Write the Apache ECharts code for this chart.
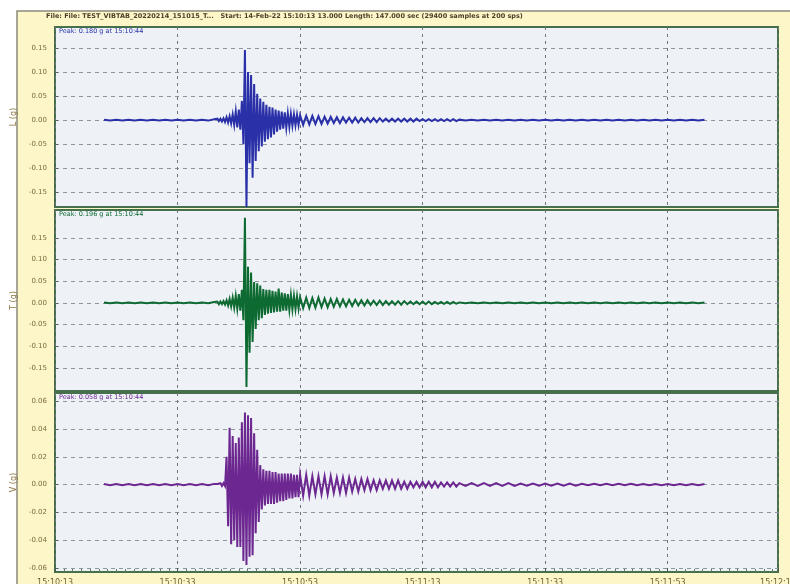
<!DOCTYPE html>
<html>
<head>
<meta charset="utf-8">
<title>Vibration record</title>
<script src="https://cdn.jsdelivr.net/npm/echarts@6/dist/echarts.min.js"></script>
<style>
  html, body { margin: 0; padding: 0; background: #ffffff; }
  #chart { width: 790px; height: 584px; }
</style>
</head>
<body>
<div id="chart"></div>
<script>
// Record sampling layout: [start time (s), step (s), sample count] per stretch.
const timeSegments = [[8, 1, 18], [26, 0.25, 56], [40, 0.5, 52], [66, 1, 41]];

// Header and channel captions
const headerText = 'File: File: TEST_VIBTAB_20220214_151015_T...   Start: 14-Feb-22 15:10:13 13.000 Length: 147.000 sec (29400 samples at 200 sps)';
const channelNames = ['L (g)', 'T (g)', 'V (g)'];
const peakCaptions = ['Peak: 0.180 g at 15:10:44', 'Peak: 0.196 g at 15:10:44', 'Peak: 0.058 g at 15:10:44'];

// Time axis: seconds from 15:10:13
const recordStart = [15, 10, 13];
const timeMin = 0, timeMax = 118, timeStep = 20;

// Amplitude tick labels per channel
const ticksL = [-0.15, -0.10, -0.05, 0, 0.05, 0.10, 0.15];
const ticksT = [-0.15, -0.10, -0.05, 0, 0.05, 0.10, 0.15];
const ticksV = [-0.06, -0.04, -0.02, 0, 0.02, 0.04, 0.06];
const rangeL = [-0.181, 0.194];
const rangeT = [-0.203, 0.214];
const rangeV = [-0.063, 0.066];

// Channel L (g): alternating swing extremes
const traceL = [
  // pre-event
  0.001,-0.001,0.001,-0.001,0.001,-0.001,0.001,-0.001,0.001,-0.001,0.001,-0.001,0.001,-0.001,0.001,-0.001,0.001,-0.001,
  // burst 26 s - 39.75 s
  0.002,-0.002,0.003,-0.002,0.003,-0.003,0.004,-0.004,
  0.006,-0.005,0.008,-0.007,0.012,-0.010,0.018,-0.015,
  0.022,-0.020,0.040,-0.050,0.146,-0.181,0.100,-0.090,
  0.094,-0.120,0.075,-0.085,0.055,-0.065,0.045,-0.055,
  0.038,-0.045,0.032,-0.040,0.028,-0.036,0.026,-0.030,
  0.022,-0.024,0.020,-0.020,0.018,-0.018,0.016,-0.016,
  0.014,-0.014,0.013,-0.012,0.012,-0.011,0.011,-0.010,
  // coda 40 s - 65.5 s
  0.010,-0.010,0.009,-0.009,0.009,-0.008,0.008,-0.008,
  0.007,-0.007,0.007,-0.006,0.006,-0.006,0.006,-0.005,
  0.005,-0.005,0.005,-0.005,0.004,-0.004,0.004,-0.004,
  0.004,-0.004,0.004,-0.003,0.003,-0.003,0.003,-0.003,
  0.003,-0.003,0.003,-0.003,0.003,-0.003,0.003,-0.002,
  0.002,-0.002,0.002,-0.002,0.002,-0.002,0.002,-0.002,
  0.002,-0.002,0.002,-0.002,
  // tail
  0.001,-0.001,0.001,-0.001,0.001,-0.001,0.001,-0.001,0.001,-0.001,
  0.001,-0.001,0.001,-0.001,0.001,-0.001,0.001,-0.001,0.001,-0.001,
  0.001,-0.001,0.001,-0.001,0.001,-0.001,0.001,-0.001,0.001,-0.001,
  0.001,-0.001,0.001,-0.001,0.001,-0.001,0.001,-0.001,0.001,-0.001,
  0.001
];

// Channel T (g)
const traceT = [
  0.001,-0.001,0.001,-0.001,0.001,-0.001,0.001,-0.001,0.001,-0.001,0.001,-0.001,0.001,-0.001,0.001,-0.001,0.001,-0.001,
  0.002,-0.002,0.003,-0.003,0.003,-0.003,0.004,-0.004,
  0.006,-0.006,0.009,-0.008,0.012,-0.011,0.016,-0.014,
  0.020,-0.018,0.030,-0.040,0.196,-0.194,0.083,-0.115,
  0.070,-0.090,0.048,-0.060,0.045,-0.040,0.040,-0.035,
  0.032,-0.028,0.030,-0.025,0.030,-0.023,0.028,-0.022,
  0.026,-0.020,0.033,-0.020,0.024,-0.018,0.022,-0.018,
  0.020,-0.016,0.018,-0.015,0.016,-0.014,0.015,-0.013,
  0.013,-0.012,0.012,-0.012,0.011,-0.011,0.012,-0.010,
  0.010,-0.010,0.009,-0.009,0.009,-0.008,0.008,-0.008,
  0.007,-0.007,0.007,-0.006,0.006,-0.006,0.006,-0.005,
  0.005,-0.005,0.005,-0.005,0.004,-0.004,0.004,-0.004,
  0.004,-0.004,0.004,-0.003,0.003,-0.003,0.003,-0.003,
  0.003,-0.003,0.003,-0.003,0.002,-0.002,0.002,-0.002,
  0.002,-0.002,0.002,-0.002,
  0.001,-0.001,0.001,-0.001,0.001,-0.001,0.001,-0.001,0.001,-0.001,
  0.001,-0.001,0.001,-0.001,0.001,-0.001,0.001,-0.001,0.001,-0.001,
  0.001,-0.001,0.001,-0.001,0.001,-0.001,0.001,-0.001,0.001,-0.001,
  0.001,-0.001,0.001,-0.001,0.001,-0.001,0.001,-0.001,0.001,-0.001,
  0.001
];

// Channel V (g)
const traceV = [
  0.0004,-0.0004,0.0004,-0.0004,0.0004,-0.0004,0.0004,-0.0004,0.0004,-0.0004,0.0004,-0.0004,0.0004,-0.0004,0.0004,-0.0004,0.0004,-0.0004,
  0.0005,-0.0005,0.0005,-0.0005,0.001,-0.001,0.001,-0.001,
  0.020,-0.030,0.041,-0.043,0.035,-0.040,0.030,-0.045,
  0.034,-0.045,0.045,-0.055,0.052,-0.058,0.050,-0.052,
  0.048,-0.051,0.037,-0.035,0.025,-0.027,0.014,-0.018,
  0.011,-0.015,0.010,-0.014,0.010,-0.014,0.009,-0.014,
  0.009,-0.013,0.008,-0.012,0.008,-0.012,0.008,-0.011,
  0.008,-0.010,0.008,-0.010,0.007,-0.009,0.007,-0.009,
  0.007,-0.008,0.007,-0.008,0.006,-0.007,0.006,-0.007,
  0.006,-0.007,0.006,-0.006,0.005,-0.006,0.005,-0.006,
  0.005,-0.005,0.004,-0.005,0.004,-0.004,0.004,-0.004,
  0.003,-0.004,0.003,-0.003,0.003,-0.003,0.003,-0.003,
  0.003,-0.003,0.002,-0.003,0.002,-0.002,0.002,-0.002,
  0.002,-0.002,0.002,-0.002,0.002,-0.002,0.0015,-0.0015,
  0.0015,-0.0015,0.0015,-0.0015,
  0.001,-0.001,0.001,-0.001,0.001,-0.001,0.001,-0.001,0.001,-0.001,
  0.0008,-0.0008,0.0008,-0.0008,0.0008,-0.0008,0.0008,-0.0008,0.0008,-0.0008,
  0.0005,-0.0005,0.0005,-0.0005,0.0005,-0.0005,0.0005,-0.0005,0.0005,-0.0005,
  0.0004,-0.0004,0.0004,-0.0004,0.0004,-0.0004,0.0004,-0.0004,0.0004,-0.0004,
  0.0004
];

const traceColors = ['#2a31a8', '#0d6a30', '#6c2790'];

// Sample times from the sampling layout
const sampleTimes = [];
timeSegments.forEach(([t0, dt, n]) => {
  for (let i = 0; i < n; i++) sampleTimes.push(t0 + i * dt);
});
const pairs = vals => vals.map((v, i) => [sampleTimes[i], v]);

function clockLabel(sec) {
  const total = recordStart[0] * 3600 + recordStart[1] * 60 + recordStart[2] + sec;
  const h = Math.floor(total / 3600), m = Math.floor((total % 3600) / 60), s = Math.round(total % 60);
  const p = x => String(x).padStart(2, '0');
  return p(h) + ':' + p(m) + ':' + p(s);
}

const grids = [
  { left: 55, right: 12, top: 27, height: 180 },
  { left: 55, right: 12, top: 210, height: 181 },
  { left: 55, right: 12, top: 393, height: 179 }
].map(g => Object.assign(g, {
  show: true, backgroundColor: '#eef2f7', borderColor: '#466f4c', borderWidth: 2,
  containLabel: false, outerBoundsMode: 'none'
}));

const ranges = [rangeL, rangeT, rangeV];
const tickSets = [ticksL, ticksT, ticksV];
const traces = [traceL, traceT, traceV];

const xAxes = [0, 1, 2].map(i => ({
  type: 'value', gridIndex: i, min: timeMin, max: timeMax, interval: timeStep,
  axisLine: { show: false, onZero: false },
  axisTick: { show: i === 2, inside: true, length: 4, lineStyle: { color: '#4a5a4a' } },
  minorTick: { show: i === 2, splitNumber: 14, length: 3, lineStyle: { color: '#5f7a62' } },
  splitLine: { show: true, lineStyle: { color: '#6f7478', type: [3, 4], width: 1 } },
  axisLabel: {
    show: i === 2, margin: 7, fontSize: 8, color: '#6b5f36', fontFamily: 'DejaVu Sans',
    formatter: v => clockLabel(v)
  }
}));

const yAxes = [0, 1, 2].map(i => ({
  type: 'value', gridIndex: i, min: ranges[i][0], max: ranges[i][1],
  name: channelNames[i], nameLocation: 'middle', nameGap: 24, nameRotate: 90,
  nameTextStyle: { fontSize: 8, color: '#8a7540', fontFamily: 'DejaVu Sans' },
  axisLine: { show: false, onZero: false },
  axisTick: { show: true, inside: true, length: 3, customValues: tickSets[i], lineStyle: { color: '#5a6a5a' } },
  axisLabel: {
    customValues: tickSets[i], fontSize: 7, margin: 8, color: '#7a6c3e', fontFamily: 'DejaVu Sans',
    formatter: v => v.toFixed(2)
  },
  splitLine: { show: true, lineStyle: { color: '#8e969e', type: [4, 4], width: 1 } }
}));

const series = [0, 1, 2].map(i => ({
  type: 'line', xAxisIndex: i, yAxisIndex: i,
  data: pairs(traces[i]),
  showSymbol: false, symbol: 'none', sampling: null, clip: true,
  lineStyle: { color: traceColors[i], width: 2, join: 'miter' },
  itemStyle: { color: traceColors[i] },
  z: 3
}));

const captionTops = [28, 211, 394];
const graphics = [
  {
    type: 'rect', z: -100, silent: true,
    shape: { x: 17, y: 11, width: 780, height: 580 },
    style: { fill: '#fdf6c9', stroke: '#8b8a7c', lineWidth: 1.5 }
  },
  {
    type: 'text', left: 46, top: 13, silent: true,
    style: { text: headerText, fontSize: 6.5, fontWeight: 'bold', fill: '#4a4128', fontFamily: 'DejaVu Sans' }
  }
].concat(peakCaptions.map((t, i) => ({
  type: 'text', left: 59, top: captionTops[i], silent: true, z: 10,
  style: { text: t, fontSize: 6.5, fill: traceColors[i], fontFamily: 'DejaVu Sans' }
})));

const chart = echarts.init(document.getElementById('chart'), null, { renderer: 'canvas' });
chart.setOption({
  animation: false,
  backgroundColor: '#ffffff',
  grid: grids,
  xAxis: xAxes,
  yAxis: yAxes,
  series: series,
  graphic: graphics
});
</script>
</body>
</html>
